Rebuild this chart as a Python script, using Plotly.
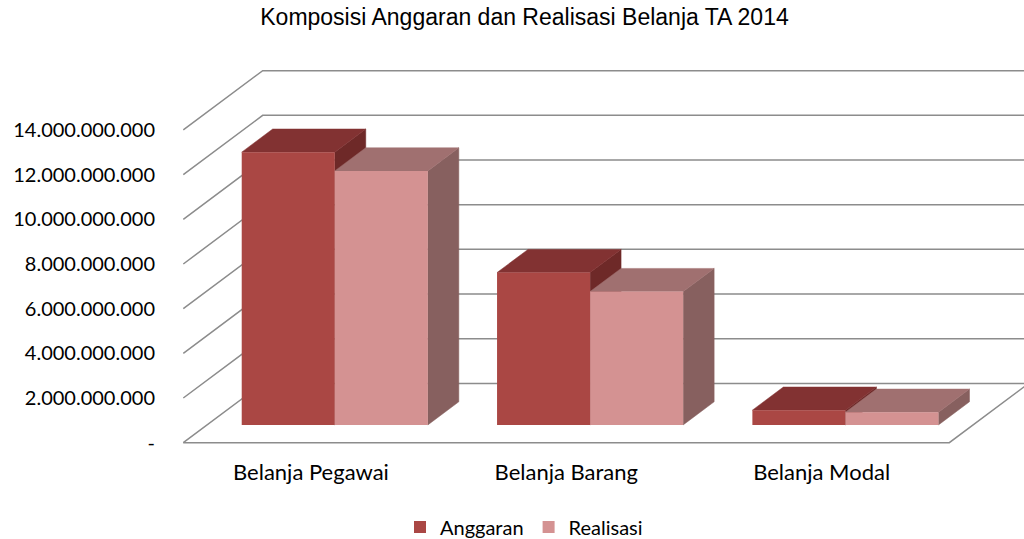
import plotly.graph_objects as go

# ---------------- data ----------------
categories = ["Belanja Pegawai", "Belanja Barang", "Belanja Modal"]
anggaran = [12.21e9, 6.82e9, 0.66e9]
realisasi = [11.37e9, 5.97e9, 0.57e9]
series_names = ["Anggaran", "Realisasi"]
tick_values = [0, 2e9, 4e9, 6e9, 8e9, 10e9, 12e9, 14e9]
tick_labels = ["-", "2.000.000.000", "4.000.000.000", "6.000.000.000",
               "8.000.000.000", "10.000.000.000", "12.000.000.000", "14.000.000.000"]
title_text = "Komposisi Anggaran dan Realisasi Belanja TA 2014"

# ---------------- style / geometry ----------------
W, H = 1024, 539
ML, MR, MT, MB = 180, 0, 55, 92
PX_PER_CAT = 255.33          # horizontal pixels per category (front plane)
PX_PER_UNIT = 22.34 / 1e9    # vertical pixels per value unit
FRONT_LEFT_PX = 183.3        # pixel position of front floor left edge
FLOOR_PX = 442.7             # pixel position of front floor line
DEPTH_DX = 79.4 / PX_PER_CAT          # full depth shift in category units
DEPTH_DY = 59.3 / PX_PER_UNIT         # full depth shift in value units
BAR_FRONT, BAR_BACK = 0.30, 0.69      # bar depth fractions
BAR_W = 0.3645

colors = {
    "Anggaran": {"front": "#AA4744", "top": "#823232", "side": "#6E2928"},
    "Realisasi": {"front": "#D49292", "top": "#A07070", "side": "#87605F"},
}
grid_color = "#8C8C8C"
label_font = "Lato, 'Open Sans', sans-serif"

plot_w = W - ML - MR
plot_h = H - MT - MB
x_min = -0.5 - (FRONT_LEFT_PX - ML) / PX_PER_CAT
x_max = x_min + plot_w / PX_PER_CAT
bottom_px = H - MB
y_min = -(bottom_px - FLOOR_PX) / PX_PER_UNIT
y_max = y_min + plot_h / PX_PER_UNIT


def proj(x, v, d):
    return x + d * DEPTH_DX, v + d * DEPTH_DY


fig = go.Figure()
z = 0

# gridlines: side wall diagonal + back wall horizontal
gx, gy = [], []
n_cat = len(categories)
for v in tick_values:
    x0, y0 = -0.5, v
    x1, y1 = proj(-0.5, v, 1)
    x2, y2 = proj(n_cat, v, 1)
    gx += [x0, x1, x2, None]
    gy += [y0, y1, y2, None]
# floor front edge and right edge
fx0, fy0 = proj(n_cat - 0.5, 0, 1)
gx += [-0.5, n_cat - 0.5, fx0, None]
gy += [0, 0, fy0, None]
fig.add_trace(go.Scatter(x=gx, y=gy, mode="lines",
                         line=dict(color=grid_color, width=1.5),
                         hoverinfo="skip", showlegend=False, zorder=z))

# bars (painter's order: left to right, side -> top -> front)
for i, cat in enumerate(categories):
    for s, (name, vals) in enumerate(zip(series_names, [anggaran, realisasi])):
        v = vals[i]
        xl = i - BAR_W + s * BAR_W
        xr = xl + BAR_W
        c = colors[name]
        # side face
        z += 1
        pts = [proj(xr, 0, BAR_FRONT), proj(xr, v, BAR_FRONT),
               proj(xr, v, BAR_BACK), proj(xr, 0, BAR_BACK)]
        fig.add_trace(go.Scatter(x=[p[0] for p in pts] + [pts[0][0]],
                                 y=[p[1] for p in pts] + [pts[0][1]],
                                 fill="toself", fillcolor=c["side"], mode="lines",
                                 line=dict(color=c["side"], width=0.5),
                                 hoverinfo="skip", showlegend=False, zorder=z))
        # top face
        z += 1
        pts = [proj(xl, v, BAR_FRONT), proj(xr, v, BAR_FRONT),
               proj(xr, v, BAR_BACK), proj(xl, v, BAR_BACK)]
        fig.add_trace(go.Scatter(x=[p[0] for p in pts] + [pts[0][0]],
                                 y=[p[1] for p in pts] + [pts[0][1]],
                                 fill="toself", fillcolor=c["top"], mode="lines",
                                 line=dict(color=c["top"], width=0.5),
                                 hoverinfo="skip", showlegend=False, zorder=z))
        # front face
        z += 1
        cx, base = proj((xl + xr) / 2, 0, BAR_FRONT)
        fig.add_trace(go.Bar(x=[cx], y=[v], base=[base], width=[BAR_W],
                             marker=dict(color=c["front"], line=dict(width=0)),
                             name=name, legendgroup=name,
                             showlegend=(i == 0), hoverinfo="skip", zorder=z))

fig.update_layout(
    width=W, height=H,
    margin=dict(l=ML, r=MR, t=MT, b=MB),
    paper_bgcolor="white", plot_bgcolor="white",
    barmode="overlay",
    title=dict(text=title_text, x=524.5 / W, xanchor="center", xref="container",
               y=1 - 16.5 / H, yanchor="middle", yref="container",
               font=dict(family="'Liberation Sans', Arial, sans-serif", size=23, color="#000")),
    xaxis=dict(range=[x_min, x_max], tickvals=list(range(n_cat)), ticktext=categories,
               showgrid=False, zeroline=False, showline=False, ticks="",
               ticklabelstandoff=10,
               tickfont=dict(family=label_font, size=22, color="#000")),
    yaxis=dict(range=[y_min, y_max], tickvals=tick_values, ticktext=tick_labels,
               showgrid=False, zeroline=False, showline=False, ticks="",
               ticklabelstandoff=24,
               tickfont=dict(family=label_font, size=20, color="#000")),
    legend=dict(orientation="h", xref="container", yref="container",
                x=524 / W, xanchor="center", y=1 - 527 / H, yanchor="middle",
                font=dict(family=label_font, size=20, color="#000"),
                traceorder="normal"),
    showlegend=True,
)

fig.write_html("out.html", config={"displayModeBar": False},
               post_script="document.body.style.margin='0px';")
